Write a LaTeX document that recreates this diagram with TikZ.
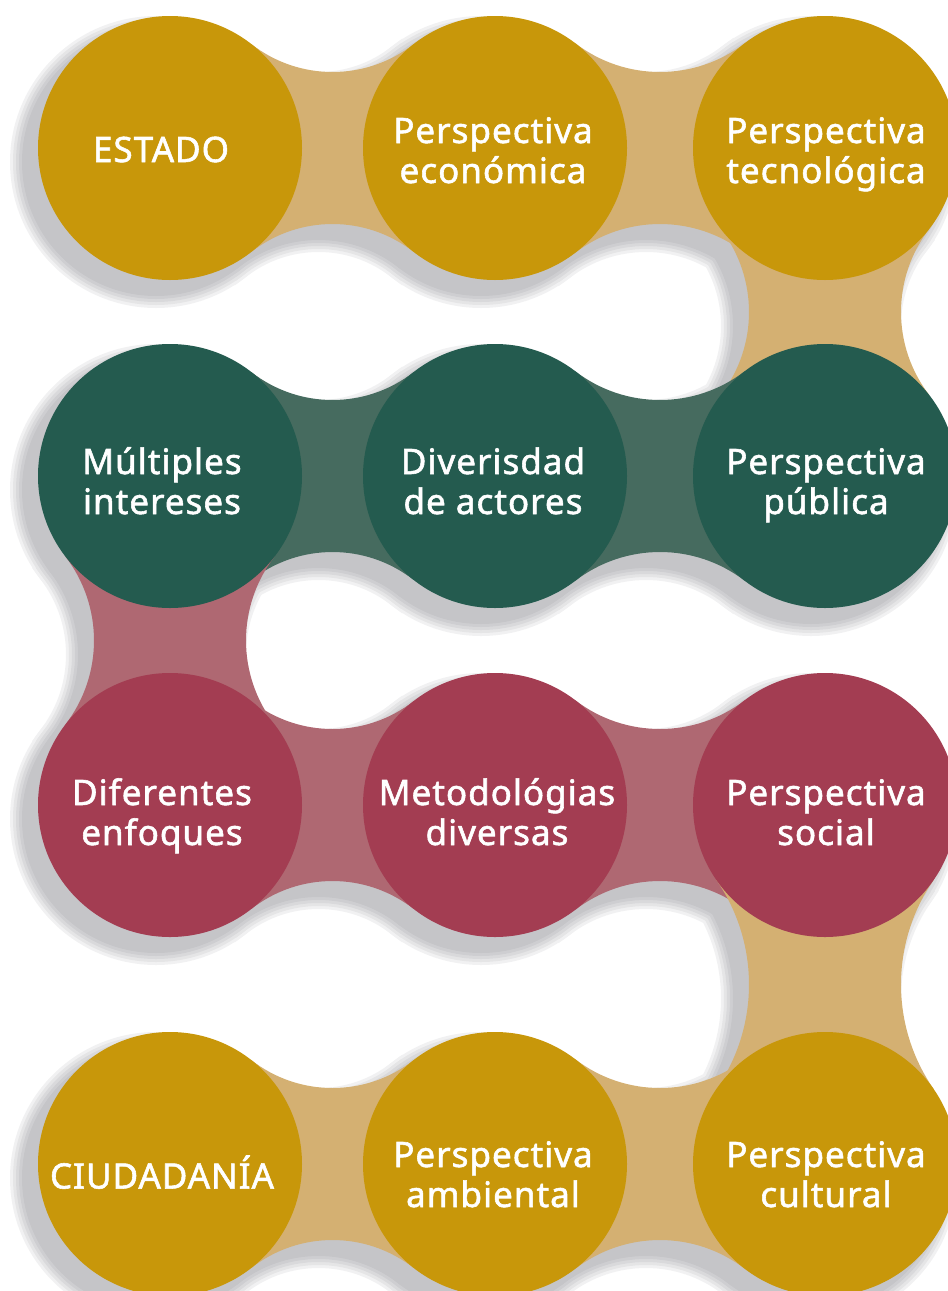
\documentclass[tikz,border=0pt]{standalone}
\usepackage{fontspec}
\newfontfamily\lbl{Noto Sans}[LetterSpace=2.9, FakeBold=1.6]
\usetikzlibrary{calc}
\definecolor{goldc}{HTML}{C8970A}
\definecolor{goldl}{HTML}{D4B072}
\definecolor{greenc}{HTML}{245B4F}
\definecolor{greenl}{HTML}{466B5F}
\definecolor{redc}{HTML}{A33D52}
\definecolor{redl}{HTML}{AF6872}
\definecolor{shadowc}{HTML}{50505A}
\newcommand\cirR{132}
\newcommand\neckW{76}
% horizontal connector: #1 x1, #2 x2, #3 y (image), #4 style
\newcommand\hconn[4]{%
  \pgfmathsetmacro\cD{(#2-#1)/2}%
  \pgfmathsetmacro\cR{((\cD/10)*(\cD/10)+(\neckW/10)*(\neckW/10)-(\cirR/10)*(\cirR/10))/(2*(\cirR-\neckW))*100}%
  \pgfmathsetmacro\cH{\cR+\neckW}%
  \pgfmathsetmacro\cT{\cirR/(\cirR+\cR)*\cD}%
  \pgfmathsetmacro\cS{\cirR/(\cirR+\cR)*\cH}%
  \pgfmathsetmacro\cA{atan2(\cH-\cS,\cD-\cT)}%
  \path[#4] (#1+\cT,-#3+\cS) arc[start angle=180+\cA, end angle=360-\cA, radius=\cR]
    -- (#2,-#3) -- (#2-\cT,-#3-\cS) arc[start angle=\cA, end angle=180-\cA, radius=\cR]
    -- (#1,-#3) -- cycle;
}
% vertical connector: #1 x, #2 y1, #3 y2 (image), #4 style
\newcommand\vconn[4]{%
  \pgfmathsetmacro\cD{(#3-#2)/2}%
  \pgfmathsetmacro\cR{((\cD/10)*(\cD/10)+(\neckW/10)*(\neckW/10)-(\cirR/10)*(\cirR/10))/(2*(\cirR-\neckW))*100}%
  \pgfmathsetmacro\cH{\cR+\neckW}%
  \pgfmathsetmacro\cT{\cirR/(\cirR+\cR)*\cD}%
  \pgfmathsetmacro\cS{\cirR/(\cirR+\cR)*\cH}%
  \pgfmathsetmacro\cA{atan2(\cD-\cT,\cH-\cS)}%
  \path[#4] (#1+\cS,-#2-\cT) arc[start angle=180-\cA, end angle=180+\cA, radius=\cR]
    -- (#1,-#3) -- (#1-\cS,-#3+\cT) arc[start angle=-\cA, end angle=\cA, radius=\cR]
    -- (#1,-#2) -- cycle;
}
\newcommand\allconn[1]{%
  \hconn{170}{495}{148}{#1}\hconn{495}{825}{148}{#1}
  \vconn{825}{148}{476}{#1}
  \hconn{170}{495}{476}{#1}\hconn{495}{825}{476}{#1}
  \vconn{170}{476}{805}{#1}
  \hconn{170}{495}{805}{#1}\hconn{495}{825}{805}{#1}
  \vconn{825}{805}{1164}{#1}
  \hconn{170}{495}{1164}{#1}\hconn{495}{825}{1164}{#1}
  \foreach \yy in {148,476,805,1164}{\foreach \xx in {170,495,825}{\path[#1] (\xx,-\yy) circle[radius=\cirR];}}
}
\tikzset{
  bubble/.style={circle, minimum size=264pt, inner sep=0pt},
  lab/.style={text=white, align=center, inner sep=0pt, font=\lbl\fontsize{35}{40}\selectfont}
}
\begin{document}
\begin{tikzpicture}[x=1pt,y=1pt]
\useasboundingbox (0,0) rectangle (948,-1291);
% shadows
\foreach \lw in {28,22,16,10,4}{
  \begin{scope}[transparency group, opacity=0.08, shift={(-14,-14)}]
    \allconn{fill=shadowc,draw=shadowc,line width=\lw pt}
  \end{scope}
}
% connectors
\hconn{170}{495}{148}{fill=goldl}\hconn{495}{825}{148}{fill=goldl}
\vconn{825}{148}{476}{fill=goldl}
\hconn{170}{495}{476}{fill=greenl}\hconn{495}{825}{476}{fill=greenl}
\vconn{170}{476}{805}{fill=redl}
\hconn{170}{495}{805}{fill=redl}\hconn{495}{825}{805}{fill=redl}
\vconn{825}{805}{1164}{fill=goldl}
\hconn{170}{495}{1164}{fill=goldl}\hconn{495}{825}{1164}{fill=goldl}
% circles
\node[bubble, fill=goldc] (c11) at (170,-148) {};
\node[bubble, fill=goldc] (c12) at (495,-148) {};
\node[bubble, fill=goldc] (c13) at (825,-148) {};
\node[bubble, fill=greenc] (c21) at (170,-476) {};
\node[bubble, fill=greenc] (c22) at (495,-476) {};
\node[bubble, fill=greenc] (c23) at (825,-476) {};
\node[bubble, fill=redc] (c31) at (170,-805) {};
\node[bubble, fill=redc] (c32) at (495,-805) {};
\node[bubble, fill=redc] (c33) at (825,-805) {};
\node[bubble, fill=goldc] (c41) at (170,-1164) {};
\node[bubble, fill=goldc] (c42) at (495,-1164) {};
\node[bubble, fill=goldc] (c43) at (825,-1164) {};
% labels
\node[lab] (t11) at (161,-154) {ESTADO\strut};
\node[lab] (t12) at (493,-155) {Perspectiva\strut\\económica\strut};
\node[lab] (t13) at (826,-155) {Perspectiva\strut\\tecnológica\strut};
\node[lab] (t21) at (162,-486) {Múltiples\strut\\intereses\strut};
\node[lab] (t22) at (493,-486) {Diverisdad\strut\\de actores\strut};
\node[lab] (t23) at (826,-486) {Perspectiva\strut\\pública\strut};
\node[lab] (t31) at (162,-817) {Diferentes\strut\\enfoques\strut};
\node[lab] (t32) at (497,-817) {Metodológias\strut\\diversas\strut};
\node[lab] (t33) at (826,-817) {Perspectiva\strut\\social\strut};
\node[lab] (t41) at (162,-1178) {CIUDADANÍA\strut};
\node[lab] (t42) at (493,-1179) {Perspectiva\strut\\ambiental\strut};
\node[lab] (t43) at (826,-1179) {Perspectiva\strut\\cultural\strut};
\end{tikzpicture}
\end{document}
